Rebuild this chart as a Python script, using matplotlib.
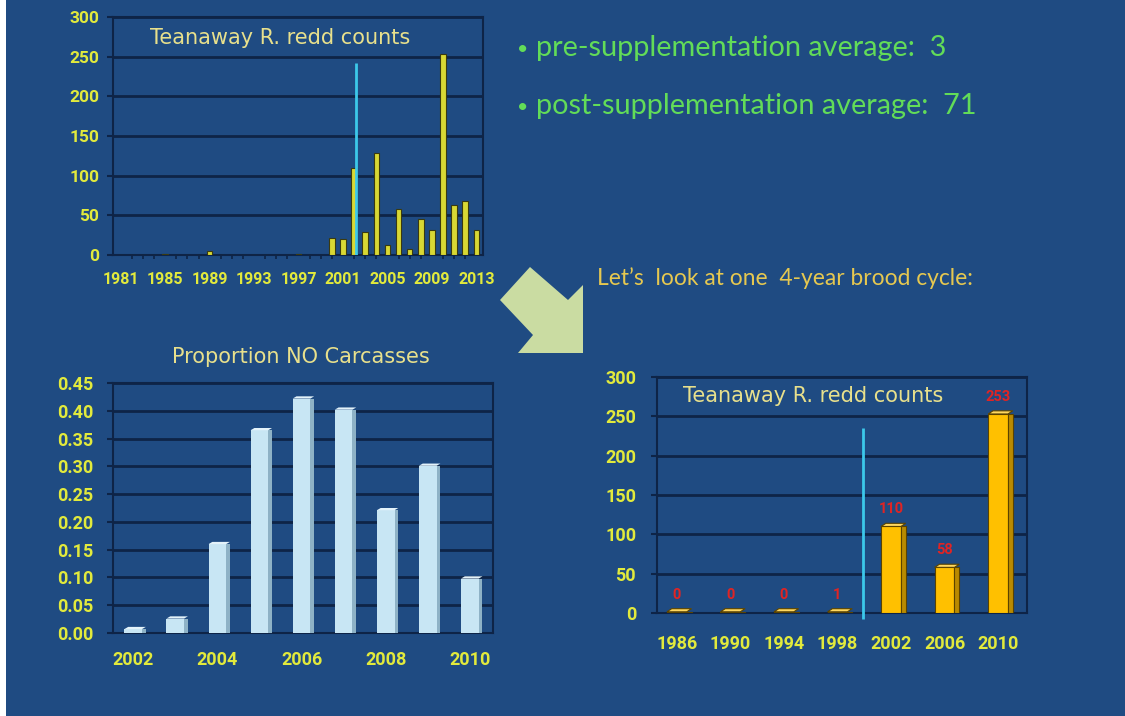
import matplotlib
matplotlib.use("Agg")
import matplotlib.pyplot as plt
from matplotlib.patches import Polygon, Rectangle
import numpy as np

# ---------------- data ----------------
years_all = list(range(1981, 2014))
redds_all = [0, 0, 0, 0, 1, 0, 0, 0, 5, 0, 0, 0, 0, 0, 0, 0, 1, 0, 0,
             21, 20, 110, 29, 128, 13, 58, 8, 46, 32, 253, 63, 68, 32]
top_xticks = [1981, 1985, 1989, 1993, 1997, 2001, 2005, 2009, 2013]

carc_years = [2002, 2003, 2004, 2005, 2006, 2007, 2008, 2009, 2010]
carc_prop = [0.007, 0.026, 0.160, 0.365, 0.422, 0.402, 0.221, 0.301, 0.098]
carc_xticks = [2002, 2004, 2006, 2008, 2010]

brood_years = ["1986", "1990", "1994", "1998", "2002", "2006", "2010"]
brood_redds = [0, 0, 0, 1, 110, 58, 253]

pre_avg = 3
post_avg = 71

# ---------------- style ----------------
BG = "#1f4b82"
GRID = "#0e2447"
TICK = "#e2ea3c"
TITLE = "#e8e08c"
CYAN = "#3cc8ea"
TFONT = ["Roboto", "DejaVu Sans"]

W, H = 1125, 716
fig = plt.figure(figsize=(W / 100, H / 100), dpi=100, facecolor=BG)


def ax_at(x0, y0, x1, y1):
    """pixel box (top-left origin) -> axes"""
    return fig.add_axes([x0 / W, 1 - y1 / H, (x1 - x0) / W, (y1 - y0) / H])


def style(ax, xsize, ysize, xpad, ypad):
    ax.set_facecolor(BG)
    for s in ax.spines.values():
        s.set_color(GRID)
        s.set_linewidth(1.5)
    ax.grid(axis="y", color=GRID, lw=2)
    ax.set_axisbelow(True)
    ax.tick_params(axis="y", colors=GRID, labelcolor=TICK,
                   length=4, width=1.5, pad=ypad)
    ax.tick_params(axis="x", colors=GRID, labelcolor=TICK,
                   length=0, pad=xpad)
    for lab in ax.get_xticklabels():
        lab.set_family(TFONT)
        lab.set_fontsize(xsize)
        lab.set_fontweight("bold")
    for lab in ax.get_yticklabels():
        lab.set_family(TFONT)
        lab.set_fontsize(ysize)
        lab.set_fontweight("bold")


# white strip at the left edge
fig.patches.append(Rectangle((0, 0), 6 / W, 1, transform=fig.transFigure,
                             facecolor="white", edgecolor="none", zorder=0))

# ---------------- top chart ----------------
ax1 = ax_at(113, 17, 483, 255)
ax1.bar(years_all, redds_all, width=0.5, color="#d8d834", edgecolor="#3a3a10",
        lw=0.8, zorder=3)
ax1.set_xlim(1980.3, 2013.6)
ax1.set_ylim(0, 300)
ax1.set_yticks(range(0, 301, 50))
ax1.set_xticks(top_xticks)
ax1.set_xticks(years_all, minor=True)
ax1.tick_params(axis="x", which="minor", length=3, width=1.2, colors=GRID)
style(ax1, 11.5, 12.5, 12, 6)
ax1.vlines(2002.15, 0, 242, color=CYAN, lw=2, zorder=4)
ax1.text(0.1, 0.91, "Teanaway R. redd counts", transform=ax1.transAxes,
         color=TITLE, fontsize=15, va="center", ha="left")

# ---------------- text ----------------
GREEN = "#62dc58"
fig.text(517 / W, 1 - 49 / H, "•", color=GREEN, fontsize=14, va="center",
         family="Lato")
fig.text(536 / W, 1 - 48 / H, f"pre-supplementation average:  {pre_avg}",
         color=GREEN, fontsize=20.8, va="center", family="Lato")
fig.text(517 / W, 1 - 107 / H, "•", color=GREEN, fontsize=14, va="center",
         family="Lato")
fig.text(536 / W, 1 - 106 / H, f"post-supplementation average:  {post_avg}",
         color=GREEN, fontsize=20.8, va="center", family="Lato")
fig.text(597 / W, 1 - 278 / H, "Let\u2019s  look at one  4-year brood cycle:",
         color="#e6c850", fontsize=16.4, va="center", family="Lato")

# arrow (decorative shape)
arrow_px = [(530, 267), (568, 300), (583, 285), (583, 353), (518, 353),
            (533, 335), (500, 300)]
fig.patches.append(Polygon([(x / W, 1 - y / H) for x, y in arrow_px],
                           closed=True, transform=fig.transFigure,
                           facecolor="#cadca2", edgecolor="none"))

# ---------------- bottom-left chart ----------------
ax2 = ax_at(113, 383, 493, 633)
bw = 0.42
side = 0.09
cx = np.array(carc_years, dtype=float)
cv = np.array(carc_prop)
ax2.bar(cx, cv, width=bw, color="#c8e6f4", edgecolor="none", zorder=3)
ax2.bar(cx + bw / 2 + side / 2, cv, width=side, color="#8eb2c6",
        edgecolor="none", zorder=3)
for xi, v in zip(cx, cv):
    ax2.add_patch(Polygon([(xi - bw / 2, v), (xi + bw / 2, v),
                           (xi + bw / 2 + side, v + 0.004),
                           (xi - bw / 2 + side, v + 0.004)],
                          closed=True, facecolor="#e4f3fa",
                          edgecolor="none", zorder=4))
ax2.set_xlim(2001.52, 2010.55)
ax2.set_ylim(0, 0.45)
ax2.set_yticks(np.arange(0, 0.451, 0.05))
ax2.set_yticklabels([f"{v:.2f}" for v in np.arange(0, 0.451, 0.05)])
ax2.set_xticks(carc_xticks)
style(ax2, 13, 13, 13, 10)
ax2.axhline(0, color="#8a86a6", lw=2, zorder=2)
fig.text(301 / W, 1 - 357 / H, "Proportion NO Carcasses", color=TITLE,
         fontsize=15, ha="center", va="center")

# ---------------- bottom-right chart ----------------
ax3 = ax_at(657, 377, 1027, 613)
bx = np.arange(len(brood_years), dtype=float)
bv = np.array(brood_redds, dtype=float)
bw3 = 0.37
sd3 = 0.09
ax3.bar(bx, np.maximum(bv, 1.5), width=bw3, color="#ffc000",
        edgecolor="#5a4300", lw=0.8, zorder=3)
ax3.bar(bx + bw3 / 2 + sd3 / 2, np.maximum(bv, 1.5), width=sd3,
        color="#b98a00", edgecolor="#5a4300", lw=0.8, zorder=3)
for xi, v in zip(bx, bv):
    top = max(v, 1.5)
    ax3.add_patch(Polygon([(xi - bw3 / 2, top), (xi + bw3 / 2, top),
                           (xi + bw3 / 2 + sd3, top + 4),
                           (xi - bw3 / 2 + sd3, top + 4)],
                          closed=True, facecolor="#ffd860",
                          edgecolor="#5a4300", lw=0.8, zorder=4))
    ax3.annotate(f"{int(v)}", (xi, top + 4), xytext=(0, 5),
                 textcoords="offset points", ha="center", va="bottom",
                 color="#e02424", fontsize=10.5, fontweight="bold",
                 family=TFONT)
ax3.set_xlim(-0.37, 6.54)
ax3.set_ylim(0, 300)
ax3.set_yticks(range(0, 301, 50))
ax3.set_xticks(bx)
ax3.set_xticklabels(brood_years)
style(ax3, 13, 13, 16, 11)
ax3.axhline(0, color="#d0d0d8", lw=2, zorder=2)
ax3.vlines(3.48, -8, 235, color=CYAN, lw=2, zorder=4, clip_on=False)
ax3.text(0.07, 0.92, "Teanaway R. redd counts", transform=ax3.transAxes,
         color=TITLE, fontsize=15, va="center", ha="left")

fig.savefig("out.png", dpi=100, facecolor=BG)
